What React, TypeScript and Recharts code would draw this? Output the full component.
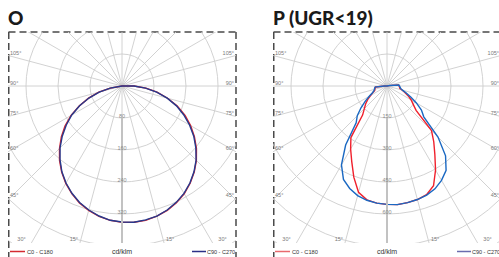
import React from "react";
import { RadarChart, Radar, PolarGrid, PolarAngleAxis, PolarRadiusAxis } from "recharts";

// gamma angles of the measured values (0 = straight down)
const gammas = [
  0, 5, 10, 15, 20, 25, 30, 35, 40, 45, 50, 55, 60, 65, 70, 75, 80, 85, 90,
  95, 100, 105, 110, 115, 120, 125, 130, 135, 140, 145, 150, 155, 160, 165, 170, 175, 180,
];

// "O" luminaire, cd/klm
const oC0 = [
  342, 341, 337, 331, 322, 311, 297, 281, 263, 243, 221, 198, 174, 147, 118, 89, 60, 30, 0,
  0, 0, 0, 0, 0, 0, 0, 0, 0, 0, 0, 0, 0, 0, 0, 0, 0, 0,
];
const oC90 = [
  342, 340, 337, 330, 321, 310, 296, 280, 262, 241, 219, 195, 170, 145, 117, 88, 59, 30, 0,
  0, 0, 0, 0, 0, 0, 0, 0, 0, 0, 0, 0, 0, 0, 0, 0, 0, 0,
];

// "P (UGR<19)" luminaire, cd/klm
const pC0 = [
  558, 555, 551, 542, 516, 455, 391, 341, 295, 178, 150, 131, 110, 89, 73, 61, 59, 56, 54,
  9, 0, 0, 0, 0, 0, 0, 0, 0, 0, 0, 0, 0, 0, 0, 0, 0, 0,
];
const pC90 = [
  558, 555, 551, 544, 532, 511, 483, 427, 338, 225, 197, 159, 124, 96, 75, 65, 61, 59, 56,
  14, 0, 0, 0, 0, 0, 0, 0, 0, 0, 0, 0, 0, 0, 0, 0, 0, 0,
];

const gridGammas = [0, 15, 30, 45, 60, 75, 90, 105, 120, 135, 150, 165, 180];
const oRings = [80, 160, 240, 320, 400, 480];
const oRingLabels = [80, 160, 240, 320];
const pRings = [150, 300, 450, 600, 750, 900];
const pRingLabels = [150, 300, 450, 600];
const leftAngleLabels = [105, 90, 75, 60, 45, 30, 15, 0];
const rightAngleLabels = [15, 30, 45, 60, 75, 90, 105];

const W = 228;
const H = 211;
const CX = 114;
const CY = 54;
const R = 192;
const LABEL_FONT = "Liberation Sans, Arial, sans-serif";

const gridAngles = Array.from(
  new Set(gridGammas.flatMap((g) => [-90 + g, -90 - g].map((a) => (a < -180 ? a + 360 : a))))
);

function buildRows(c0: number[], c90: number[]) {
  const rows = [];
  for (let pos = 0; pos < 360; pos += 5) {
    const g = pos <= 180 ? pos : 360 - pos;
    const i = gammas.indexOf(g);
    rows.push({ pos, c0: c0[i], c90: c90[i] });
  }
  return rows;
}

function AngleTick(props: any) {
  const pos = Number(props.payload?.value);
  const right = pos <= 180;
  const g = right ? pos : 360 - pos;
  const show = right ? rightAngleLabels.includes(g) && g !== 0 : leftAngleLabels.includes(g);
  if (!show) return <g />;
  const a = ((-90 + pos) * Math.PI) / 180;
  const ux = Math.cos(a);
  const uy = -Math.sin(a);
  const style = { fontSize: 5.5, fill: "#7a7a7a", fontFamily: LABEL_FONT };
  if (g === 0) {
    return (
      <text x={CX + 3} y={H - 2} textAnchor="start" {...style}>
        0°
      </text>
    );
  }
  if (g >= 45) {
    const ex = right ? W - 2 : 2;
    const t = (ex - CX) / ux;
    const y = CY + uy * t;
    return (
      <text x={ex} y={y - 1} textAnchor={right ? "end" : "start"} {...style}>
        {g}°
      </text>
    );
  }
  const t = (H - 4 - CY) / uy;
  const x = CX + ux * t;
  const off = g === 30 ? 8 : 3;
  return (
    <text x={right ? x + off : x - off} y={H - 2} textAnchor={right ? "start" : "end"} {...style}>
      {g}°
    </text>
  );
}

function ringTick(labels: number[]) {
  return (props: any) => {
    const v = Number(props.payload?.value);
    if (!labels.includes(v)) return <g />;
    return (
      <text x={props.x} y={props.y} dy={-0.5} textAnchor="middle" fontSize={5.5} fill="#8a8a8a" fontFamily={LABEL_FONT}>
        {v}
      </text>
    );
  };
}

interface PanelProps {
  left: number;
  title: string;
  c0: number[];
  c90: number[];
  rings: number[];
  ringLabels: number[];
  red: string;
  blue: string;
  legendRed: string;
  legendBlue: string;
}

function Panel({ left, title, c0, c90, rings, ringLabels, red, blue, legendRed, legendBlue }: PanelProps) {
  const rows = buildRows(c0, c90);
  const max = rings[rings.length - 1];
  const dash = "#4a4a4a";
  return (
    <div style={{ position: "absolute", left, top: 0, width: W, height: 257 }}>
      <div
        style={{
          position: "absolute",
          left: 0,
          top: 8,
          fontFamily: "Lato, sans-serif",
          fontWeight: 900,
          fontSize: 19,
          lineHeight: "19px",
          color: "#1a1a1a",
          whiteSpace: "nowrap",
        }}
      >
        {title}
      </div>
      <svg style={{ position: "absolute", left: 0, top: 0 }} width={W + 2} height={257}>
        <line x1={0.5} y1={32} x2={W} y2={32} stroke={dash} strokeWidth={1.5} strokeDasharray="7 4" />
        <line x1={0.75} y1={32} x2={0.75} y2={257} stroke={dash} strokeWidth={1.5} strokeDasharray="7 4" />
        <line x1={W} y1={32} x2={W} y2={257} stroke={dash} strokeWidth={1.5} strokeDasharray="7 4" />
        <line x1={2} y1={251.5} x2={17} y2={251.5} stroke={legendRed} strokeWidth={1.5} />
        <text x={19} y={253.5} fontSize={5.7} fill="#333" fontFamily={LABEL_FONT}>
          C0 - C180
        </text>
        <text x={CX} y={254} fontSize={7} fill="#333" textAnchor="middle" fontFamily={LABEL_FONT}>
          cd/klm
        </text>
        <line x1={184} y1={251.5} x2={198} y2={251.5} stroke={legendBlue} strokeWidth={1.5} />
        <text x={199} y={253.5} fontSize={5.5} fill="#333" fontFamily={LABEL_FONT}>
          C90 - C270
        </text>
      </svg>
      <div style={{ position: "absolute", left: 0, top: 32 }}>
        <RadarChart
          width={W}
          height={H}
          cx={CX}
          cy={CY}
          outerRadius={R}
          startAngle={-90}
          endAngle={270}
          data={rows}
          margin={{ top: 0, right: 0, bottom: 0, left: 0 }}
        >
          <PolarGrid gridType="circle" polarAngles={gridAngles} stroke="#cdcdcd" strokeWidth={0.9} />
          <PolarAngleAxis dataKey="pos" tick={AngleTick} axisLine={false} tickLine={false} />
          <PolarRadiusAxis
            angle={-90}
            type="number"
            domain={[0, max]}
            ticks={rings}
            tick={ringTick(ringLabels)}
            axisLine={{ stroke: "#c2c2c2", strokeWidth: 2 }}
            tickLine={false}
          />
          <Radar dataKey="c0" stroke={red} strokeWidth={1.4} fill="none" fillOpacity={0} dot={false} isAnimationActive={false} />
          <Radar dataKey="c90" stroke={blue} strokeWidth={1.4} fill="none" fillOpacity={0} dot={false} isAnimationActive={false} />
        </RadarChart>
      </div>
    </div>
  );
}

export default function App() {
  return (
    <div style={{ position: "fixed", left: 0, top: 0, width: 499, height: 257, overflow: "hidden", background: "#fff" }}>
      <Panel
        left={8}
        title="O"
        c0={oC0}
        c90={oC90}
        rings={oRings}
        ringLabels={oRingLabels}
        red="#d9252e"
        blue="#253a8e"
        legendRed="#d42a30"
        legendBlue="#2b2f86"
      />
      <Panel
        left={273}
        title="P (UGR<19)"
        c0={pC0}
        c90={pC90}
        rings={pRings}
        ringLabels={pRingLabels}
        red="#f0202c"
        blue="#1a68c2"
        legendRed="#e86a6e"
        legendBlue="#6a6cae"
      />
    </div>
  );
}
